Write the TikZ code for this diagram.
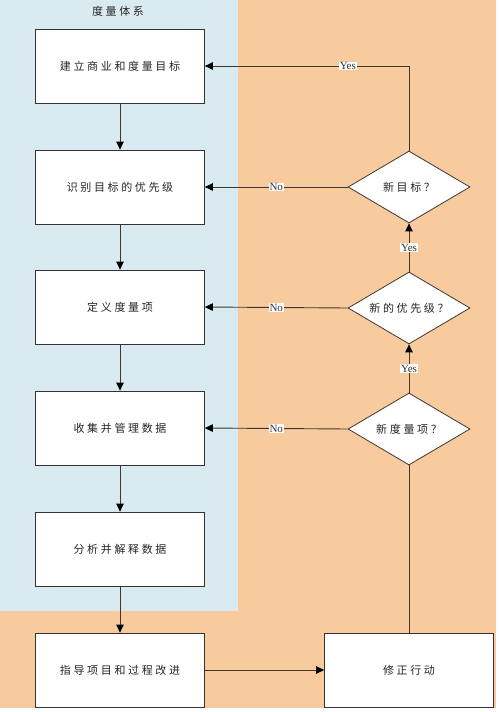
\documentclass[tikz,border=0pt]{standalone}
\usepackage{fontspec}
\newfontfamily\cjk[LetterSpace=24]{Noto Sans CJK SC}
\newfontfamily\lat{Liberation Serif}
\usetikzlibrary{shapes.geometric,arrows.meta}
\definecolor{bgorange}{HTML}{F7CB9E}
\definecolor{bgblue}{HTML}{DAEAF1}
\definecolor{lncol}{HTML}{3F372F}
\definecolor{bdcol}{HTML}{333333}
\tikzset{
  stepbox/.style={draw=bdcol, line width=0.8pt, fill=white, minimum width=169pt, minimum height=74pt, inner sep=0pt, text=black!85, font=\cjk\fontsize{11pt}{12pt}\selectfont},
  decis/.style={draw=lncol, line width=0.8pt, fill=white, shape=diamond, minimum width=122pt, minimum height=72pt, inner sep=0pt},
  dtext/.style={font=\cjk\fontsize{11pt}{12pt}\selectfont, text=black!85, inner sep=0pt},
  arr/.style={draw=lncol, line width=0.9pt, -{Triangle[length=8pt,width=7.5pt,fill=black,color=black]}},
  plain/.style={draw=lncol, line width=0.9pt},
  lbl/.style={fill=white, inner sep=0.8pt, font=\lat\fontsize{11pt}{12pt}\selectfont, text=bdcol}
}
\begin{document}
\begin{tikzpicture}[x=1pt,y=-1pt]
\useasboundingbox (0,0) rectangle (498,712);
\fill[white] (0,0) rectangle (498,712);
\fill[bgorange] (0,0) rectangle (496,708);
\fill[bgblue] (0,0) rectangle (238,611);
\node[font=\cjk\fontsize{11pt}{12pt}\selectfont, text=black!85, inner sep=0pt] (title) at (118,11) {度量体系};

\node[stepbox] (b1) at (120,66) {建立商业和度量目标};
\node[stepbox] (b2) at (120,187) {识别目标的优先级};
\node[stepbox] (b3) at (120,307) {定义度量项};
\node[stepbox] (b4) at (120,428) {收集并管理数据};
\node[stepbox] (b5) at (120,549) {分析并解释数据};
\node[stepbox] (b6) at (120,670) {指导项目和过程改进};
\node[stepbox] (b7) at (409,670) {修正行动};

\node[decis] (d1) at (409,187) {};
\node[dtext] (t1) at (d1.center) {新目标？};
\node[decis] (d2) at (409,308) {};
\node[dtext] (t2) at (d2.center) {新的优先级？};
\node[decis] (d3) at (409,429) {};
\node[dtext] (t3) at (d3.center) {新度量项？};

\draw[arr] (b1) -- (b2);
\draw[arr] (b2) -- (b3);
\draw[arr] (b3) -- (b4);
\draw[arr] (b4) -- (b5);
\draw[arr] (b5) -- (b6);
\draw[arr] (b6) -- (b7);
\draw[plain] (b7.north) -- (d3.south);
\draw[arr] (d3.north) -- node[lbl]{Yes} (d2.south);
\draw[arr] (d2.north) -- node[lbl]{Yes} (d1.south);
\draw[arr] (d1.north) |- node[lbl,pos=0.65]{Yes} (b1.east);
\draw[arr] (d1.west) -- node[lbl]{No} (b2.east);
\draw[arr] (d2.west) -- node[lbl]{No} (b3.east);
\draw[arr] (d3.west) -- node[lbl]{No} (b4.east);
\end{tikzpicture}
\end{document}
